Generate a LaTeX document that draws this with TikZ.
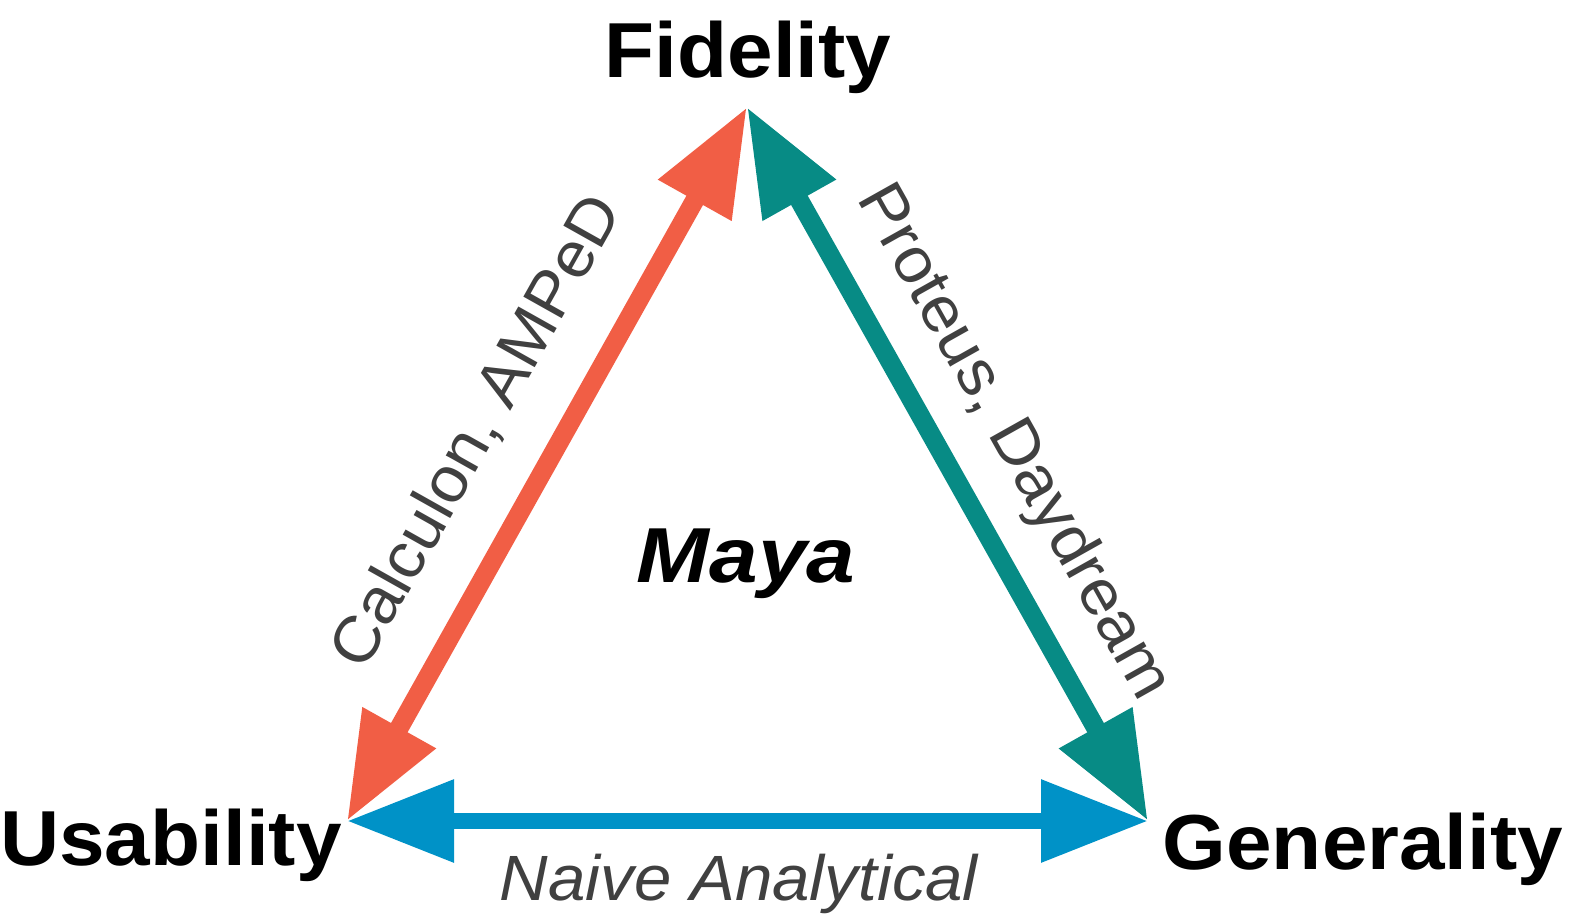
\documentclass[tikz,border=0pt]{standalone}
\usepackage{fontspec}
\setmainfont{Liberation Sans}[FakeStretch=1.05]
\newfontfamily\mayafont{Liberation Sans}[FakeStretch=1.12]
\usetikzlibrary{arrows.meta}
\definecolor{corange}{RGB}{241,94,69}
\definecolor{cteal}{RGB}{7,139,133}
\definecolor{cblue}{RGB}{0,146,199}
\definecolor{cgray}{RGB}{64,64,64}
\begin{document}
\begin{tikzpicture}[x=0.5pt,y=-0.5pt,
  vlabel/.style={font=\fontsize{39}{45}\selectfont\bfseries, text=black, anchor=base, inner sep=0pt},
  elabel/.style={font=\fontsize{32}{38}\selectfont, text=cgray, anchor=base, inner sep=0pt},
  twoway/.style={{Triangle[length=53.5pt,width=39.5pt]}-{Triangle[length=53.5pt,width=39.5pt]}},
  diag/.style={twoway, line width=9.5pt},
  horiz/.style={twoway, line width=8pt}
]
\useasboundingbox (0,0) rectangle (1578,921);
\coordinate (F) at (747,107);
\coordinate (U) at (347,821);
\coordinate (G) at (1148,821);

\draw[diag, corange] (U) -- (F);
\draw[diag, cteal] (F) -- (G);
\draw[horiz, cblue] (U) -- (G);

\node[vlabel] (fid) at (748,77) {Fidelity};
\node[vlabel] (usa) at (171,865) {Usability};
\node[vlabel] (gen) at (1363,869) {Generality};
\node[vlabel, font=\fontsize{39}{45}\selectfont\mayafont\bfseries\itshape] (maya) at (746,582) {Maya};

\node[elabel, rotate=60.7] (calc) at (494,441) {Calculon, AMPeD};
\node[elabel, rotate=-60.7] (prot) at (998,451) {Proteus, Daydream};
\node[elabel, font=\fontsize{32}{38}\selectfont\itshape] (naive) at (739,900) {Naive Analytical};
\end{tikzpicture}
\end{document}
